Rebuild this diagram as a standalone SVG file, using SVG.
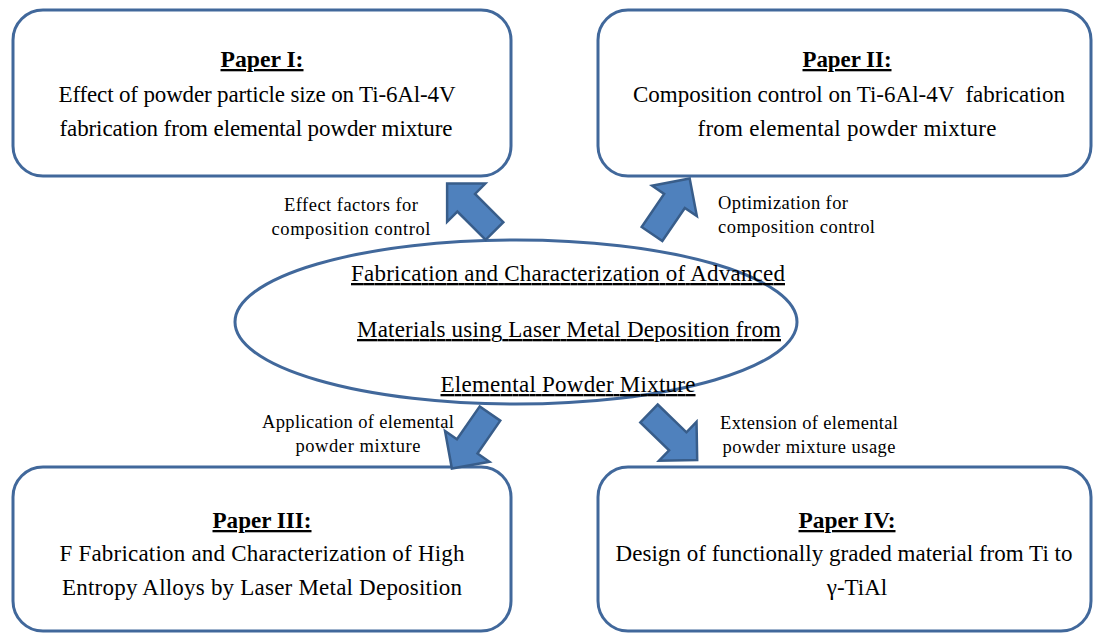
<svg xmlns="http://www.w3.org/2000/svg" width="1093" height="633" viewBox="0 0 1093 633">
<style>
  .box { fill: #ffffff; stroke: #41689B; stroke-width: 3; }
  .ell { fill: #ffffff; stroke: #41689B; stroke-width: 3; }
  .arrow { fill: #4F81BD; stroke: #385D8A; stroke-width: 2.5; stroke-linejoin: miter; }
  text { font-family: 'Liberation Serif', 'Times New Roman', serif; fill: #000000; }
  .t { font-size: 23px; text-anchor: middle; }
  .h { font-size: 23px; font-weight: bold; text-anchor: middle; text-decoration: underline; }
  .c { font-size: 23px; text-anchor: middle; text-decoration: underline; }
  .lab { font-size: 18.5px; }
  .mid { text-anchor: middle; }
</style>
<defs>
  <path id="blk" d="M0,-12.5 H40 V-27 L67,0 L40,27 V12.5 H0 Z"/>
</defs>
<rect width="1093" height="633" fill="#ffffff"/>

<g id="paper1">
  <rect class="box" x="13" y="10" width="498" height="166" rx="30" ry="30"/>
  <text class="h" x="262" y="67" textLength="83" lengthAdjust="spacingAndGlyphs">Paper I:</text>
  <text class="t" x="257" y="102" textLength="397" lengthAdjust="spacing">Effect of powder particle size on Ti-6Al-4V</text>
  <text class="t" x="256" y="136" textLength="393" lengthAdjust="spacing">fabrication from elemental powder mixture</text>
</g>

<g id="paper2">
  <rect class="box" x="598" y="10" width="493" height="166" rx="30" ry="30"/>
  <text class="h" x="847" y="67" textLength="89" lengthAdjust="spacingAndGlyphs">Paper II:</text>
  <text class="t" x="849" y="102" textLength="432" lengthAdjust="spacing" xml:space="preserve">Composition control on Ti-6Al-4V  fabrication</text>
  <text class="t" x="847" y="136" textLength="299" lengthAdjust="spacing">from elemental powder mixture</text>
</g>

<g id="paper3">
  <rect class="box" x="13" y="467" width="498" height="164" rx="30" ry="30"/>
  <text class="h" x="262" y="528" textLength="99" lengthAdjust="spacingAndGlyphs">Paper III:</text>
  <text class="t" x="262" y="561" textLength="405" lengthAdjust="spacing">F Fabrication and Characterization of High</text>
  <text class="t" x="262" y="595" textLength="400" lengthAdjust="spacing">Entropy Alloys by Laser Metal Deposition</text>
</g>

<g id="paper4">
  <rect class="box" x="598" y="467" width="493" height="164" rx="30" ry="30"/>
  <text class="h" x="847" y="528" textLength="97" lengthAdjust="spacingAndGlyphs">Paper IV:</text>
  <text class="t" x="844" y="561" textLength="457" lengthAdjust="spacing">Design of functionally graded material from Ti to</text>
  <text class="t" x="857" y="595">γ-TiAl</text>
</g>

<g id="center">
  <ellipse class="ell" cx="516" cy="322" rx="281" ry="82"/>
  <text class="c" x="568" y="281" textLength="434" lengthAdjust="spacing">Fabrication and Characterization of Advanced</text>
  <text class="c" x="569" y="337" textLength="424" lengthAdjust="spacing">Materials using Laser Metal Deposition from</text>
  <text class="c" x="568" y="392" textLength="255" lengthAdjust="spacing">Elemental Powder Mixture</text>
</g>

<g id="connectors">
  <use href="#blk" class="arrow" transform="translate(494.5,231) rotate(-135)"/>
  <use href="#blk" class="arrow" transform="translate(652,234) rotate(-55.8)"/>
  <use href="#blk" class="arrow" transform="translate(490,413.5) rotate(124.7)"/>
  <use href="#blk" class="arrow" transform="translate(649,413.5) rotate(44)"/>
  <text class="lab mid" x="351" y="211" textLength="134" lengthAdjust="spacing">Effect factors for</text>
  <text class="lab mid" x="351" y="235" textLength="159" lengthAdjust="spacing">composition control</text>
  <text class="lab" x="718" y="209" textLength="130" lengthAdjust="spacing">Optimization for</text>
  <text class="lab" x="718" y="233" textLength="157" lengthAdjust="spacing">composition control</text>
  <text class="lab mid" x="358" y="428" textLength="192" lengthAdjust="spacing">Application of elemental</text>
  <text class="lab mid" x="358" y="452" textLength="125" lengthAdjust="spacing">powder mixture</text>
  <text class="lab mid" x="809" y="429" textLength="178" lengthAdjust="spacing">Extension of elemental</text>
  <text class="lab mid" x="809" y="453" textLength="173" lengthAdjust="spacing">powder mixture usage</text>
</g>
</svg>
